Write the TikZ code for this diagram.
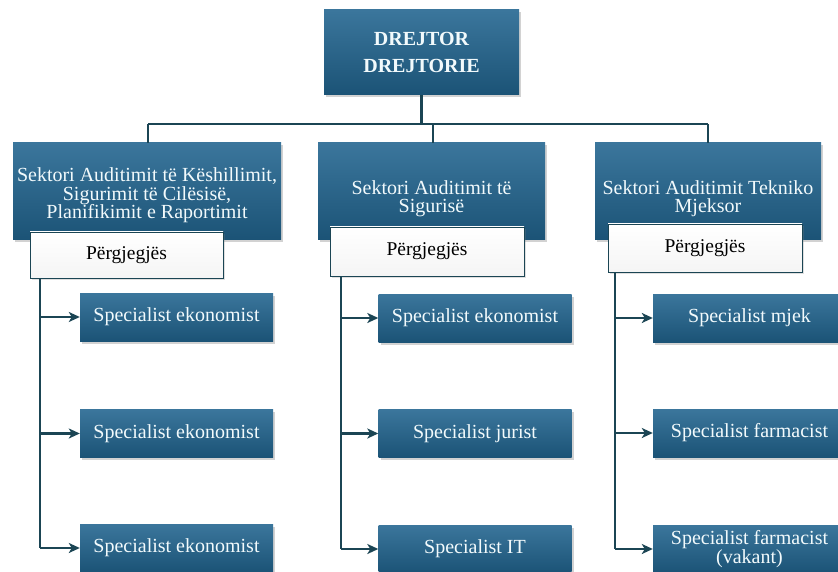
\documentclass[tikz,border=0pt]{standalone}
\usepackage{fontspec}
\setmainfont{Liberation Serif}
\usetikzlibrary{arrows.meta,shadows}
\definecolor{boxtop}{HTML}{3B769C}
\definecolor{boxbot}{HTML}{1B5376}
\definecolor{linec}{HTML}{1B4554}
\definecolor{txtc}{HTML}{F2FAFC}
\tikzset{
  bluebox/.style={draw=none, top color=boxtop, bottom color=boxbot, text=txtc,
    drop shadow={shadow xshift=2pt, shadow yshift=-2.5pt, opacity=0.35},
    inner sep=0pt, align=center, font=\fontsize{20}{18}\selectfont},
  topbox/.style={bluebox, minimum width=195pt, minimum height=85pt,
    font=\fontsize{20}{27}\selectfont\bfseries},
  sectbox/.style={bluebox, minimum height=97pt},
  sectxt/.style={text=txtc, align=center, font=\fontsize{20}{18.5}\selectfont, inner sep=0pt},
  specbox/.style={bluebox, minimum width=193pt, minimum height=48pt,
    font=\fontsize{20}{18.5}\selectfont},
  respbox/.style={draw=linec, line width=0.7pt, top color=white, bottom color=gray!8,
    drop shadow={shadow xshift=1.5pt, shadow yshift=-2pt, opacity=0.25},
    minimum width=193pt, inner sep=0pt, font=\fontsize{19.5}{20}\selectfont},
  conn/.style={draw=linec, line width=2.8pt},
  arr/.style={conn, -{Stealth[length=11pt,width=10pt,inset=3pt]}},
}
\begin{document}
\begin{tikzpicture}[x=1pt,y=-1pt]
\useasboundingbox[fill=white] (0,0) rectangle (838,572);
% top
\node[topbox] (top) at (421.5,52.5) {DREJTOR\\DREJTORIE};
% sectors
\node[sectbox, minimum width=268pt,
  label={[sectxt, yshift=-4pt]center:{Sektori Auditimit të Këshillimit,\\Sigurimit të Cilësisë,\\Planifikimit e Raportimit}}]
  (s1) at (147,191.5) {};
\node[sectbox, minimum width=227pt,
  label={[sectxt, yshift=-7pt]center:{Sektori Auditimit të\\Sigurisë}}]
  (s2) at (431.5,191.5) {};
\node[sectbox, minimum width=226pt,
  label={[sectxt, yshift=-7pt]center:{Sektori Auditimit Tekniko\\Mjeksor}}]
  (s3) at (708,191.5) {};
% responsible boxes
\node[respbox, minimum height=46pt] (p1) at (126.5,255) {Përgjegjës};
\node[respbox, minimum height=49pt, minimum width=194pt] (p2) at (427,251.5) {Përgjegjës};
\node[respbox, minimum height=48pt, minimum width=194pt] (p3) at (705,248) {Përgjegjës};
% specialists col 1
\node[specbox] (a1) at (176.5,317) {Specialist ekonomist};
\node[specbox] (a2) at (176.5,433.5) {Specialist ekonomist};
\node[specbox] (a3) at (176.5,548) {Specialist ekonomist};
% col 2
\node[specbox] (b1) at (475,318) {Specialist ekonomist};
\node[specbox] (b2) at (475,433.5) {Specialist jurist};
\node[specbox] (b3) at (475,549) {Specialist IT};
% col 3
\node[specbox] (c1) at (749.5,318) {Specialist mjek};
\node[specbox] (c2) at (749.5,433) {Specialist farmacist};
\node[specbox] (c3) at (749.5,549) {Specialist farmacist\\(vakant)};
% bus
\coordinate (bus) at (0,124);
\draw[conn] (top.south) -- (top.south |- bus);
\draw[conn] (148,0 |- bus) coordinate (busL) -- (708,0 |- bus) coordinate (busR);
\draw[conn] (s1.north -| busL) -- (busL);
\draw[conn] (s2.north) ++(1.5,0) coordinate (s2n) -- (s2n |- bus);
\draw[conn] (s3.north -| busR) -- (busR);
% column spines
\coordinate (v1) at (40,0);
\coordinate (v2) at (341,0);
\coordinate (v3) at (615,0);
\draw[conn] (v1 |- p1.south) -- (v1 |- a3);
\draw[conn] (v2 |- p2.south) -- (v2 |- b3);
\draw[conn] (v3 |- p3.south) -- (v3 |- c3);
\foreach \n in {a1,a2,a3} \draw[arr] (v1 |- \n) -- (\n.west);
\foreach \n in {b1,b2,b3} \draw[arr] (v2 |- \n) -- (\n.west);
\foreach \n in {c1,c2,c3} \draw[arr] (v3 |- \n) -- (\n.west);
\end{tikzpicture}
\end{document}
